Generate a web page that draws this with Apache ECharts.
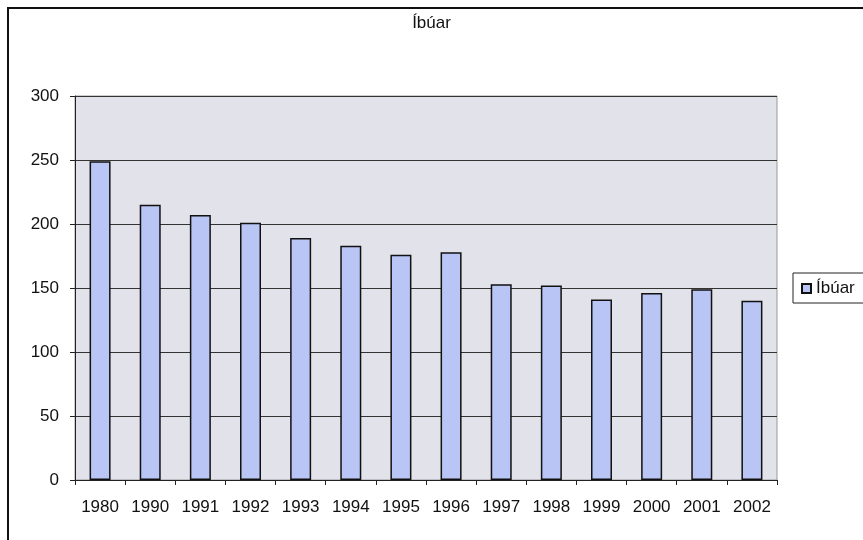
<!DOCTYPE html>
<html><head><meta charset="utf-8">
<script src="https://cdn.jsdelivr.net/npm/echarts@6/dist/echarts.min.js"></script>
<style>html,body{margin:0;padding:0;background:#fff}#c{width:863px;height:540px}</style>
</head><body><div id="c"></div>
<script>
const title = 'Íbúar';
const seriesName = 'Íbúar';
const categories = ['1980','1990','1991','1992','1993','1994','1995','1996','1997','1998','1999','2000','2001','2002'];
const values = [249, 215, 207, 201, 189, 183, 176, 178, 153, 152, 141, 146, 149, 140];
const yTicks = {min: 0, max: 300, interval: 50};

const chart = echarts.init(document.getElementById('c'), null, {renderer: 'canvas'});
const font = '"Liberation Sans", Arial, sans-serif';
chart.setOption({
  animation: false,
  backgroundColor: '#fff',
  textStyle: {fontFamily: font},
  title: {text: title, left: 'center', top: 10,
    textStyle: {fontSize: 17, fontWeight: 'normal', color: '#111', fontFamily: font}},
  graphic: [{type: 'rect', shape: {x: 8, y: 8, width: 880, height: 560},
    style: {fill: null, stroke: '#111', lineWidth: 2}, silent: true, z: 10}],
  legend: {
    data: [seriesName], orient: 'vertical', left: 793, top: 273,
    itemWidth: 9, itemHeight: 9, itemGap: 6, padding: [7, 20, 6, 8],
    borderColor: '#222', borderWidth: 1, backgroundColor: '#fff',
    textStyle: {fontSize: 17, color: '#111', fontFamily: font},
    icon: 'rect'
  },
  grid: {left: 75, right: 86, top: 96, bottom: 60, show: true,
    backgroundColor: '#e2e2ea', borderColor: '#9a9a9a', borderWidth: 1},
  xAxis: {
    type: 'category', data: categories,
    axisLine: {lineStyle: {color: '#222', width: 1}},
    axisTick: {show: true, alignWithLabel: false, length: 5, lineStyle: {color: '#222'}},
    axisLabel: {fontSize: 17, color: '#111', margin: 19, interval: 0, fontFamily: font},
    splitLine: {show: false}
  },
  yAxis: {
    type: 'value', min: yTicks.min, max: yTicks.max, interval: yTicks.interval,
    axisLine: {show: true, lineStyle: {color: '#222', width: 1}},
    axisTick: {show: true, length: 5, lineStyle: {color: '#222'}},
    axisLabel: {fontSize: 17, color: '#111', margin: 16, fontFamily: font},
    splitLine: {show: true, lineStyle: {color: '#333', width: 1}}
  },
  series: [{
    name: seriesName, type: 'bar', data: values, barWidth: 21,
    itemStyle: {color: '#b9c5f5', borderColor: '#111', borderWidth: 1.5}
  }]
});
</script></body></html>
